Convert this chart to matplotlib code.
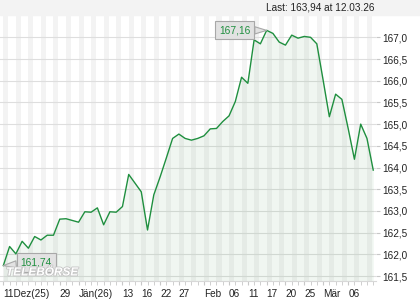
import matplotlib
matplotlib.use("Agg")
import matplotlib.pyplot as plt
import matplotlib.patheffects as pe
from matplotlib.patches import Rectangle
from matplotlib.ticker import FuncFormatter
import numpy as np

plt.rcParams['font.family'] = ['Liberation Sans', 'DejaVu Sans']

# Schlusskurse, ein Wert je Handelstag (11.12.25 - 12.03.26)
kurse = [161.74, 162.18, 162.01, 162.30, 162.14, 162.41, 162.33, 162.44, 162.44, 162.81,
         162.82, 162.78, 162.74, 162.98, 162.97, 163.07, 162.68, 162.98, 162.97, 163.10,
         163.84, 163.64, 163.44, 162.56, 163.37, 163.78, 164.22, 164.67, 164.77, 164.67,
         164.63, 164.67, 164.73, 164.89, 164.90, 165.06, 165.19, 165.52, 166.08, 165.94,
         166.94, 166.85, 167.16, 167.09, 166.89, 166.82, 167.05, 166.98, 167.02, 167.00,
         166.85, 166.02, 165.17, 165.69, 165.57, 164.90, 164.19, 165.00, 164.67, 163.94]

x_labels = ['11Dez(25)', '29', 'Jän(26)', '13', '16', '22', '27', 'Feb', '06', '11',
            '17', '20', '25', 'Mär', '06']
x_label_idx = [0, 9, 12, 19, 22, 25, 28, 32, 36, 39, 42, 45, 48, 51, 55]
y_ticks = [161.5, 162.0, 162.5, 163.0, 163.5, 164.0, 164.5, 165.0, 165.5, 166.0, 166.5, 167.0]

letzter = "Last: 163,94 at 12.03.26"

gruen = '#1f8f3f'


def komma(v, pos=None):
    return f"{v:.1f}".replace('.', ',')


fig = plt.figure(figsize=(4.2, 3.0), dpi=100)
fig.patches.append(Rectangle((0, 285 / 300), 1, 15 / 300, transform=fig.transFigure,
                             color='#f3f3f3', zorder=0))
fig.text(374 / 420, 1 - 7.5 / 300, letzter, ha='right', va='center', fontsize=7.2, color='#222222')

ax = fig.add_axes([0, 19 / 300, 376 / 420, 266 / 300])
x = np.arange(len(kurse))
ax.set_xlim(-0.53, 59.44)
ax.set_ylim(161.385, 167.514)

# abwechselnde Streifen im Hintergrund
for i in range(0, len(kurse), 2):
    ax.axvspan(i, i + 0.8, color='#f3f3f3', lw=0, zorder=0)

ax.set_yticks(y_ticks)
ax.yaxis.set_major_formatter(FuncFormatter(komma))
ax.yaxis.tick_right()
ax.grid(axis='y', color='#dedede', lw=0.8, zorder=1)
ax.tick_params(axis='y', length=3, color='#c8c8c8', pad=1.5, labelsize=7.2, labelcolor='#222222')

ax.set_xticks(x_label_idx)
ax.set_xticklabels(x_labels, ha='left')
ax.set_xticks(x, minor=True)
ax.tick_params(axis='x', which='both', length=3, color='#c8c8c8', pad=2.5,
               labelsize=7.2, labelcolor='#222222')

for s in ['top', 'left', 'right']:
    ax.spines[s].set_visible(False)
ax.spines['bottom'].set_color('#d8d8d8')

ax.fill_between(x, kurse, 161.385, color='#2e8b3e', alpha=0.07, lw=0, zorder=2)
ax.plot(x, kurse, color=gruen, lw=1.0, zorder=3)

# Max / Min Beschriftung
box = dict(boxstyle='square,pad=0.4', fc='#e2e2e2', ec='#a8a8a8', lw=0.8)
pfeil = dict(arrowstyle='wedge,tail_width=0.7', fc='#e2e2e2', ec='#a8a8a8', lw=0.8,
             shrinkA=0, shrinkB=0)
imax = int(np.argmax(kurse))
imin = int(np.argmin(kurse))
ax.annotate(f"{kurse[imax]:.2f}".replace('.', ','),
            xy=(imax, kurse[imax]), xytext=(-32, 0), textcoords='offset pixels',
            ha='center', va='center', color=gruen, fontsize=7.4, bbox=box, arrowprops=pfeil, zorder=5)
ax.annotate(f"{kurse[imin]:.2f}".replace('.', ','),
            xy=(imin, kurse[imin]), xytext=(33, 3), textcoords='offset pixels',
            ha='center', va='center', color=gruen, fontsize=7.4, bbox=box, arrowprops=pfeil, zorder=5)

# Wasserzeichen
ax.text(42 / 376, 8.5 / 266, 'TELEBÖRSE', transform=ax.transAxes, ha='center', va='center',
        fontsize=8.5, fontweight='bold', fontstyle='italic', color='white', zorder=6,
        path_effects=[pe.withStroke(linewidth=1.2, foreground='#c4c4c4')])

fig.savefig('out.png', dpi=100)
